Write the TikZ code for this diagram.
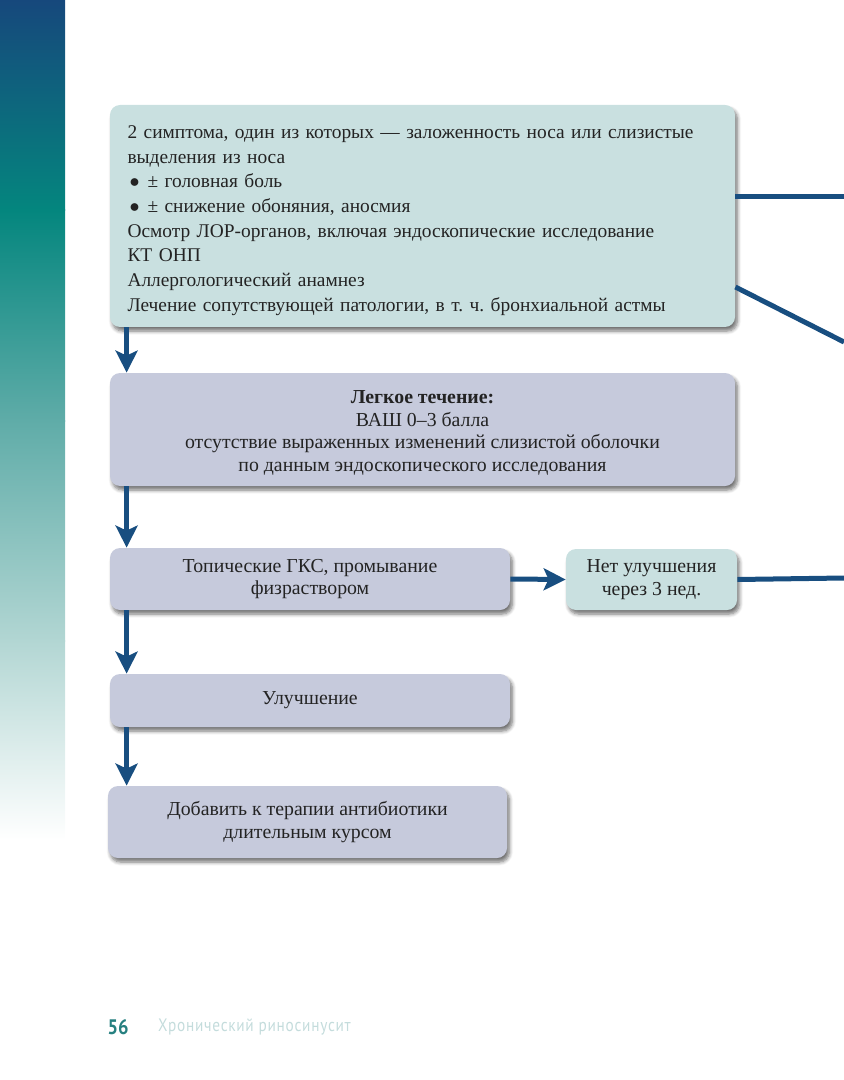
\documentclass[tikz,border=0pt]{standalone}
\usepackage{fontspec}
\setmainfont{Liberation Serif}
\newfontfamily\footfont[LetterSpace=4, FakeStretch=0.85]{PT Sans}
\newfontfamily\numfont[FakeStretch=0.88]{PT Sans}
\usetikzlibrary{
    arrows.meta,
    positioning,
    calc,
    shadows.blur
}
\tikzset{
  card/.style    = {rounded corners=5pt, align=center, text=inkgray,
                    font=\fontsize{9.9}{11.2}\selectfont,
                    blur shadow={shadow xshift=1.2pt, shadow yshift=-2pt,
                                 shadow blur steps=6, shadow opacity=55}},
  tealbox/.style = {card, fill=paleteal},
  lilbox/.style  = {card, fill=palelilac},
  arr/.style     = {-{Stealth[length=11pt, width=11pt, inset=2.5pt]},
                    line width=2.5pt, flowblue},
  link/.style    = {line width=2.5pt, flowblue}
}
\definecolor{flowblue}{RGB}{24,78,128}
\definecolor{paleteal}{RGB}{201,224,224}
\definecolor{palelilac}{RGB}{198,202,220}
\definecolor{inkgray}{RGB}{35,35,35}
\definecolor{bardark}{RGB}{22,72,124}
\definecolor{barteal}{RGB}{4,134,126}
\definecolor{barmid}{RGB}{95,172,168}
\definecolor{barpale}{RGB}{178,214,211}
\definecolor{numteal}{RGB}{38,128,128}
\definecolor{headpale}{RGB}{196,220,220}

\begin{document}
\frenchspacing
\begin{tikzpicture}[
    x=0.5pt, y=-0.5pt,
    pagenum/.style={font=\numfont\bfseries\fontsize{10.5}{12}\selectfont, text=numteal},
    runhead/.style={font=\footfont\fontsize{9}{10}\selectfont, text=headpale}
  ]
    \useasboundingbox (0,0) rectangle (844,1080);
    % side bar
    \shade[top color=bardark, bottom color=barteal] (0,0) rectangle (65,211);
    \shade[top color=barteal, bottom color=barmid] (0,210) rectangle (65,421);
    \shade[top color=barmid, bottom color=barpale] (0,420) rectangle (65,641);
    \shade[top color=barpale, bottom color=white] (0,640) rectangle (65,840);

    \node[tealbox, minimum width=312.5pt, minimum height=111pt,
          text width=295pt, align=left, font=\fontsize{9.7}{12.35}\selectfont]
          (sympt) at (422.5,216)
      {\rule{0pt}{11pt}2 симптома, один из которых — заложенность носа или слизистые\\
       выделения из носа\\
       \hspace*{1pt}$\bullet$\hspace{4pt}± головная боль\\
       \hspace*{1pt}$\bullet$\hspace{4pt}± снижение обоняния, аносмия\\
       Осмотр ЛОР-органов, включая эндоскопические исследование\\
       КТ ОНП\\
       Аллергологический анамнез\\
       Лечение сопутствующей патологии, в т. ч. бронхиальной астмы};
    \node[lilbox, minimum width=312.5pt, minimum height=56.5pt] (mild) at (422.5,429.5)
      {\rule{0pt}{10pt}\textbf{Легкое течение:}\\ВАШ 0–3 балла\\
       отсутствие выраженных изменений слизистой оболочки\\
       по данным эндоскопического исследования};
    \node[lilbox, minimum width=200pt, minimum height=31pt] (gks) at (310,579)
      {Топические ГКС, промывание\\физраствором};
    \node[tealbox, minimum width=85.5pt, minimum height=30.5pt] (noimpr) at (651.5,579.5)
      {Нет улучшения\\через 3 нед.};
    \node[lilbox, minimum width=200pt, minimum height=26.5pt] (impr) at (310,700.5)
      {Улучшение};
    \node[lilbox, minimum width=199.5pt, minimum height=36pt] (abx) at (307.5,822)
      {Добавить к терапии антибиотики\\длительным курсом};

    \coordinate (out1) at (844,197);
    \coordinate (out2) at (844,342);
    \coordinate (out3) at (844,578);

    \draw[arr] ([xshift=8.5pt]sympt.south west) -- ([xshift=8.5pt]mild.north west);
    \draw[arr] ([xshift=8.5pt]mild.south west) -- ([xshift=8.5pt]gks.north west);
    \draw[arr] ([xshift=8.5pt]gks.south west) -- ([xshift=8.5pt]impr.north west);
    \draw[arr] ([xshift=8.5pt]impr.south west) -- ([xshift=8.5pt]impr.south west |- abx.north);
    \draw[arr] (gks.east) -- (noimpr.west);
    \draw[link] (noimpr.east) -- (out3);
    \draw[link] (sympt.east |- out1) -- (out1);
    \draw[link] ([yshift=-35.5pt]sympt.east) -- (out2);

    \node[pagenum] (pnum) at (118,1027) {56};
    \node[runhead, anchor=west] (rhead) at (151,1027) {Хронический риносинусит};
  \end{tikzpicture}
\end{document}
